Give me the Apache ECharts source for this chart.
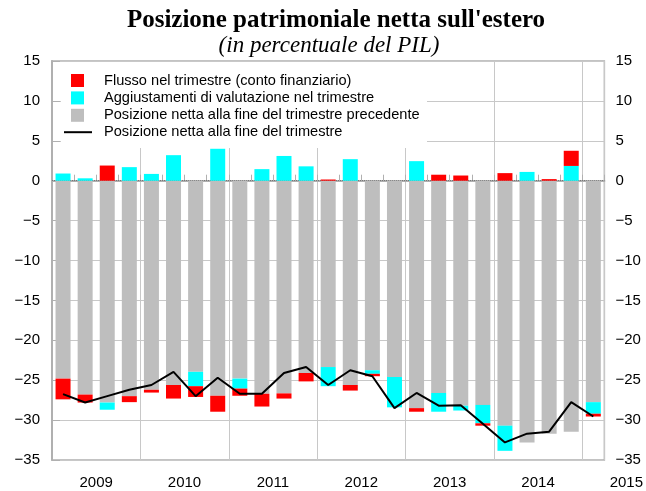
<!DOCTYPE html>
<html>
<head>
<meta charset="utf-8">
<script src="https://cdn.jsdelivr.net/npm/echarts@6/dist/echarts.min.js"></script>
<style>
  html, body { margin: 0; padding: 0; background: #fff; }
  #chart { width: 646px; height: 491px; }
</style>
</head>
<body>
<div id="chart"></div>
<script>
// trimestri dal 2009 T1 al 2015 T1
var trimestri = [
  '2009 T1', '2009 T2', '2009 T3', '2009 T4',
  '2010 T1', '2010 T2', '2010 T3', '2010 T4',
  '2011 T1', '2011 T2', '2011 T3', '2011 T4',
  '2012 T1', '2012 T2', '2012 T3', '2012 T4',
  '2013 T1', '2013 T2', '2013 T3', '2013 T4',
  '2014 T1', '2014 T2', '2014 T3', '2014 T4',
  '2015 T1'
];

// posizione netta alla fine del trimestre precedente (barre grigie)
var posPrecedente = [
  -24.8, -26.8, -27.8, -27.0, -26.2, -25.6, -23.95, -26.95,
  -24.8, -26.7, -26.65, -24.1, -23.35, -25.6, -23.75, -24.6,
  -28.5, -26.6, -28.2, -28.1, -30.7, -32.8, -31.7, -31.45,
  -27.75
];

// aggiustamenti di valutazione (barre azzurre)
var aggiustamenti = [
  0.9, 0.3, -0.9, 1.7, 0.85, 3.2, -1.8, 4.0,
  -1.25, 1.45, 3.1, 1.8, -2.4, 2.7, -0.45, -3.8,
  2.45, -2.35, -0.6, -2.3, -3.15, 1.1, 0, 1.85,
  -1.45
];

// flusso nel trimestre, conto finanziario (barre rosse)
var flusso = [
  -2.6, -1.0, 1.9, -0.75, -0.35, -1.7, -1.35, -2.0,
  -0.9, -1.6, -0.65, -1.05, 0.15, -0.7, -0.3, 0,
  -0.45, 0.75, 0.65, -0.3, 0.95, 0, 0.2, 1.9,
  -0.35
];

// posizione netta alla fine del trimestre (linea)
var posFine = [
  -26.75, -27.8, -27.0, -26.2, -25.6, -23.95, -27.0, -24.7,
  -26.7, -26.7, -24.1, -23.35, -25.6, -23.75, -24.5, -28.5,
  -26.6, -28.2, -28.15, -30.45, -32.8, -31.7, -31.45, -27.75,
  -29.55
];

var nomi = [
  'Flusso nel trimestre (conto finanziario)',
  'Aggiustamenti di valutazione nel trimestre',
  'Posizione netta alla fine del trimestre precedente',
  'Posizione netta alla fine del trimestre'
];

var font = 'Liberation Sans, Arial, sans-serif';
var serif = 'Liberation Serif, Times New Roman, serif';

function meno(v) {
  return String(v).replace('-', '\u2212');
}

var myChart = echarts.init(document.getElementById('chart'));

var option = {
  backgroundColor: '#fff',
  animation: false,
  title: [
    {
      text: "Posizione patrimoniale netta sull'estero",
      left: 336,
      top: 8,
      padding: 0,
      textAlign: 'center',
      textStyle: { fontFamily: serif, fontWeight: 'bold', fontSize: 25, color: '#000' }
    },
    {
      text: '(in percentuale del PIL)',
      left: 329,
      top: 34,
      padding: 0,
      textAlign: 'center',
      textStyle: { fontFamily: serif, fontStyle: 'italic', fontWeight: 'normal', fontSize: 23, color: '#000' }
    }
  ],
  graphic: [
    {
      type: 'rect',
      z: 1,
      shape: { x: 61, y: 62, width: 366, height: 86 },
      style: { fill: '#fff' },
      silent: true
    }
  ],
  legend: [
    {
      data: [nomi[0], nomi[1], nomi[2]],
      orient: 'vertical',
      left: 71,
      top: 73,
      padding: 0,
      itemWidth: 13,
      itemHeight: 13,
      itemGap: 2.4,
      selectedMode: false,
      icon: 'rect',
      textStyle: { fontFamily: font, fontSize: 14.6, color: '#000', lineHeight: 13, height: 13, padding: [0, 0, 0, 15] }
    },
    {
      data: [nomi[3]],
      left: 64,
      top: 124.7,
      padding: 0,
      itemWidth: 28,
      itemHeight: 2,
      icon: 'rect',
      selectedMode: false,
      itemStyle: { color: '#000' },
      textStyle: { fontFamily: font, fontSize: 14.6, color: '#000', lineHeight: 13, height: 13, padding: [0, 0, 0, 7] }
    }
  ],
  grid: {
    left: 52,
    right: 41,
    top: 61,
    bottom: 31,
    show: true,
    borderColor: '#b0b0b0',
    borderWidth: 1.5,
    backgroundColor: 'transparent'
  },
  xAxis: {
    type: 'category',
    data: trimestri,
    boundaryGap: true,
    axisLine: { show: true, lineStyle: { color: '#b0b0b0', width: 2 } },
    axisTick: { show: true, inside: true, length: 6, interval: 0, lineStyle: { color: '#b0b0b0' } },
    splitLine: {
      show: true,
      interval: function (index) { return index > 0 && index % 4 === 0; },
      lineStyle: { color: '#c8c8c8', width: 1 }
    },
    axisLabel: {
      interval: 0,
      margin: 15,
      color: '#000',
      fontFamily: font,
      fontSize: 15,
      formatter: function (value, index) {
        var parti = value.split(' ');
        if (index === trimestri.length - 1 && parti[1] === 'T1') return '{z|' + parti[0] + '}';
        if (parti[1] === 'T2') return '{y|' + parti[0] + '}';
        return '';
      },
      rich: {
        y: { padding: [0, 0, 0, 22], fontFamily: font, fontSize: 15, color: '#000' },
        z: { padding: [0, 0, 0, 66], fontFamily: font, fontSize: 15, color: '#000' }
      }
    }
  },
  yAxis: [
    {
      type: 'value',
      min: -35,
      max: 15,
      interval: 5,
      position: 'left',
      axisLine: { show: true, lineStyle: { color: '#b0b0b0', width: 2 } },
      axisTick: { show: true, inside: true, length: 8, lineStyle: { color: '#b0b0b0' } },
      splitLine: { show: true, lineStyle: { color: '#c8c8c8', width: 1 } },
      axisLabel: { margin: 12, color: '#000', fontFamily: font, fontSize: 15, formatter: meno }
    },
    {
      type: 'value',
      min: -35,
      max: 15,
      interval: 5,
      position: 'right',
      axisLine: { show: false },
      axisTick: { show: false },
      splitLine: { show: false },
      axisLabel: { margin: 11, color: '#000', fontFamily: font, fontSize: 15, formatter: meno }
    }
  ],
  series: [
    {
      name: nomi[2],
      type: 'bar',
      stack: 'pos',
      barWidth: 15,
      data: posPrecedente,
      itemStyle: { color: '#bebebe' },
      markLine: {
        silent: true,
        z: 1,
        symbol: ['none', 'none'],
        label: { show: false },
        lineStyle: { color: '#777', type: 'dotted', width: 1 },
        data: [{ yAxis: 0 }]
      }
    },
    {
      name: nomi[1],
      type: 'bar',
      stack: 'pos',
      barWidth: 15,
      data: aggiustamenti,
      itemStyle: { color: '#00ffff' }
    },
    {
      name: nomi[0],
      type: 'bar',
      stack: 'pos',
      barWidth: 15,
      data: flusso,
      itemStyle: { color: '#ff0000' }
    },
    {
      name: nomi[3],
      type: 'line',
      data: posFine,
      symbol: 'none',
      z: 5,
      lineStyle: { color: '#000', width: 2 },
      itemStyle: { color: '#000' }
    }
  ]
};

myChart.setOption(option);
window.addEventListener('resize', function () {
  setTimeout(function () {
    myChart.resize();
  }, 0);
});
</script>
</body>
</html>
